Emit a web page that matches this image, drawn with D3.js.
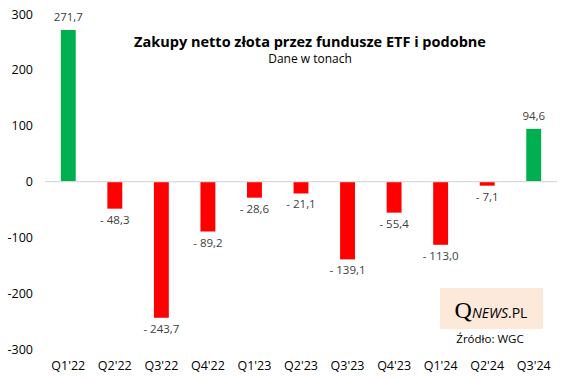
<!DOCTYPE html>
<html>
<head>
<meta charset="utf-8">
<script src="https://cdn.jsdelivr.net/npm/d3@7"></script>
<style>
  body { margin: 0; background: #fff; }
  svg { font-family: "Open Sans", "Noto Sans", sans-serif; }
</style>
</head>
<body>
<svg width="571" height="381"></svg>
<script>
const quarters = ["Q1'22", "Q2'22", "Q3'22", "Q4'22", "Q1'23", "Q2'23", "Q3'23", "Q4'23", "Q1'24", "Q2'24", "Q3'24"];
const tonnes = [271.7, -48.3, -243.7, -89.2, -28.6, -21.1, -139.1, -55.4, -113.0, -7.1, 94.6];
const yTicks = [300, 200, 100, 0, -100, -200, -300];

const svg = d3.select("svg");

const x = d3.scaleBand().domain(quarters).range([45, 557]).paddingInner(0.68).paddingOuter(0.34);
const y = d3.scaleLinear().domain([-300, 300]).range([349.2, 14.2]);

const fmt = v => {
  const s = Math.abs(v).toFixed(1).replace(".", ",");
  return v < 0 ? "- " + s : s;
};

// y tick labels
svg.append("g").selectAll("text")
  .data(yTicks).enter().append("text")
  .attr("x", 33)
  .attr("y", d => y(d))
  .attr("dy", "0.35em")
  .attr("text-anchor", "end")
  .attr("font-size", 12.5)
  .attr("fill", "#000")
  .text(d => d);

// bars
svg.append("g").selectAll("rect")
  .data(quarters).enter().append("rect")
  .attr("x", d => x(d))
  .attr("width", x.bandwidth())
  .attr("y", (d, i) => y(Math.max(0, tonnes[i])))
  .attr("height", (d, i) => Math.abs(y(tonnes[i]) - y(0)))
  .attr("fill", (d, i) => tonnes[i] >= 0 ? "#00b050" : "#ff0000");

// zero line
svg.append("line")
  .attr("x1", 45).attr("x2", 557)
  .attr("y1", y(0)).attr("y2", y(0))
  .attr("stroke", "#d9d9d9").attr("stroke-width", 1.2);

// value labels
svg.append("g").selectAll("text")
  .data(quarters).enter().append("text")
  .attr("x", d => x(d) + x.bandwidth() / 2)
  .attr("y", (d, i) => tonnes[i] >= 0 ? y(tonnes[i]) - 9 : y(tonnes[i]) + 15)
  .attr("text-anchor", "middle")
  .attr("font-size", 11.5)
  .attr("fill", "#404040")
  .text((d, i) => fmt(tonnes[i]));

// x labels
svg.append("g").selectAll("text")
  .data(quarters).enter().append("text")
  .attr("x", d => x(d) + x.bandwidth() / 2)
  .attr("y", 370)
  .attr("text-anchor", "middle")
  .attr("font-size", 12.5)
  .attr("fill", "#000")
  .text(d => d);

// title
svg.append("text")
  .attr("x", 310).attr("y", 47)
  .attr("text-anchor", "middle")
  .attr("font-size", 14.5).attr("font-weight", "bold")
  .text("Zakupy netto złota przez fundusze ETF i podobne");
svg.append("text")
  .attr("x", 310).attr("y", 63)
  .attr("text-anchor", "middle")
  .attr("font-size", 12)
  .text("Dane w tonach");

// logo box
svg.append("rect")
  .attr("x", 440).attr("y", 288)
  .attr("width", 103).attr("height", 41)
  .attr("fill", "#fde9d9");
const logo = svg.append("text")
  .attr("x", 491).attr("y", 318)
  .attr("text-anchor", "middle")
  .attr("fill", "#000");
logo.append("tspan")
  .attr("font-family", "'Liberation Serif', serif")
  .attr("font-size", 24)
  .text("Q");
logo.append("tspan")
  .attr("font-size", 14).attr("font-style", "italic")
  .text("NEWS");
logo.append("tspan")
  .attr("font-size", 14)
  .text(".PL");

svg.append("text")
  .attr("x", 490).attr("y", 343)
  .attr("text-anchor", "middle")
  .attr("font-size", 11.5)
  .attr("fill", "#000")
  .text("Źródło: WGC");
</script>
</body>
</html>
